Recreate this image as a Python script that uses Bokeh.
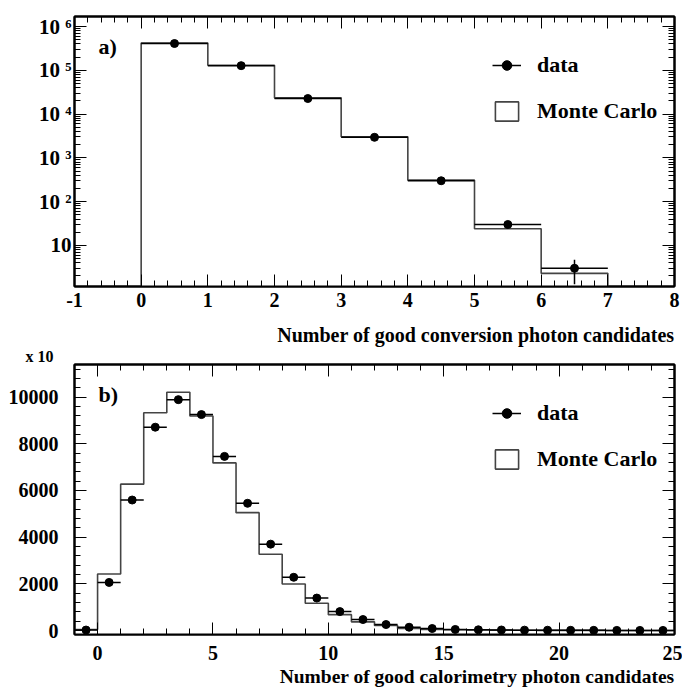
import numpy as np
from bokeh.plotting import figure
from bokeh.models import (Label, Legend, LegendItem, LinearAxis, LogAxis, FixedTicker,
                          SingleIntervalTicker, CustomJSTickFormatter, Range1d, Title)
from bokeh.layouts import column
from bokeh.embed import file_html
from bokeh.resources import INLINE

# ---------------- data: panel a) good conversion photon candidates ----------------
conv_edges = [0, 1, 2, 3, 4, 5, 6, 7]
conv_data = [4.1e5, 1.28e5, 2.27e4, 2.95e3, 300, 30, 3]
conv_data_err = [640, 360, 150, 54, 17, 5.5, 1.7]
conv_mc = [4.2e5, 1.31e5, 2.35e4, 3.05e3, 310, 24, 2.3]
conv_yticks = [10, 100, 1000, 10000, 100000, 1000000]
conv_ytick_labels = ["10", "10 ²", "10 ³", "10 ⁴", "10 ⁵", "10 ⁶"]

# ---------------- data: panel b) good calorimetry photon candidates (x 10) ----------
cal_edges = list(range(-1, 26))
cal_data = [20, 2060, 5590, 8710, 9890, 9250, 7460, 5450, 3700, 2280, 1390, 810, 470,
            256, 140, 85, 45, 30, 22, 16, 12, 9, 7, 5, 4, 3]
cal_mc = [40, 2420, 6270, 9330, 10210, 9190, 7180, 5050, 3270, 1990, 1170, 680, 370,
          213, 90, 50, 35, 22, 15, 10, 7, 5, 4, 3, 2, 2]

FONT = "Liberation Serif"
MC_COLOR = "#444444"

INT_FMT = CustomJSTickFormatter(code="""
const v = Math.round(tick);
return (v < 0 ? "-" : "") + Math.abs(v).toString();
""")


def style_axis(ax, show_labels=True, standoff=8, size="20px"):
    ax.axis_line_color = "black"
    ax.axis_line_width = 2
    ax.major_tick_in = 12
    ax.major_tick_out = 0
    ax.minor_tick_in = 6
    ax.minor_tick_out = 0
    ax.major_tick_line_color = "black"
    ax.minor_tick_line_color = "black"
    ax.major_tick_line_width = 1
    ax.minor_tick_line_width = 1
    if show_labels:
        ax.major_label_text_font = FONT
        ax.major_label_text_font_style = "bold"
        ax.major_label_text_font_size = size
        ax.major_label_text_color = "black"
        ax.major_label_standoff = standoff
    else:
        ax.formatter = CustomJSTickFormatter(code="return '';")
        ax.major_label_text_font_size = "0px"
        ax.major_label_standoff = 0


def side_title(p, txt, place, align, size, standoff, offset=0):
    p.add_layout(Title(text=txt, align=align, text_font=FONT, text_font_style="bold",
                       text_font_size=size, text_color="black", standoff=standoff,
                       offset=offset), place)


def base_fig(height, x_range, y_range, y_type, top, bottom):
    p = figure(width=682, height=height, x_range=x_range, y_range=y_range,
               y_axis_type=y_type, output_backend="svg", toolbar_location=None,
               min_border_left=74, min_border_right=8, min_border_top=top,
               min_border_bottom=bottom)
    p.xgrid.visible = False
    p.ygrid.visible = False
    p.outline_line_color = "black"
    p.outline_line_width = 2
    p.background_fill_color = "white"
    p.border_fill_color = "white"
    return p


def step_outline(edges, vals, base):
    xs = np.repeat(np.asarray(edges, dtype=float), 2)
    ys = np.concatenate([[base], np.repeat(np.asarray(vals, dtype=float), 2), [base]])
    return xs, ys


def make_legend(p, data_rs, mc_r):
    leg = Legend(items=[LegendItem(label="data", renderers=data_rs),
                        LegendItem(label="Monte Carlo", renderers=[mc_r])],
                 location=(418, 162), orientation="vertical",
                 glyph_width=29, glyph_height=24, label_height=24, label_standoff=16,
                 spacing=20, padding=0, margin=0, border_line_color=None,
                 background_fill_alpha=0, label_text_font=FONT,
                 label_text_font_style="bold", label_text_font_size="22px",
                 label_text_color="black", label_text_baseline="middle")
    p.add_layout(leg)


def panel_label(p, txt, x, y):
    p.add_layout(Label(x=x, y=y, x_units="screen", y_units="screen", text=txt,
                       text_font=FONT, text_font_style="bold", text_font_size="22px",
                       text_align="left", text_baseline="middle", text_color="black"))


# ---------------- panel a ----------------
p1 = base_fig(316, Range1d(-1, 8), Range1d(1.15, 1.7e6), "log", 16, 30)
xax1 = p1.below[0]
yax1 = p1.left[0]
minor_log = [m * 10.0 ** d for d in range(0, 7) for m in range(2, 10)]
ytick_a = FixedTicker(ticks=conv_yticks, minor_ticks=minor_log)
xtick_a = SingleIntervalTicker(interval=1, num_minor_ticks=5)
yfmt_a = CustomJSTickFormatter(args=dict(tvals=conv_yticks, tlabels=conv_ytick_labels), code="""
for (let i = 0; i < tvals.length; i++) {
  if (Math.abs(Math.log10(tick) - Math.log10(tvals[i])) < 1e-6) return tlabels[i];
}
return "";
""")
xax1.ticker = xtick_a
xax1.formatter = INT_FMT
yax1.ticker = ytick_a
yax1.formatter = yfmt_a
style_axis(xax1, True, 6)
style_axis(yax1, True, 3, "21px")
ax_top = LinearAxis(ticker=xtick_a)
style_axis(ax_top, False)
p1.add_layout(ax_top, "above")
ax_right = LogAxis(ticker=ytick_a)
style_axis(ax_right, False)
p1.add_layout(ax_right, "right")

xs, ys = step_outline(conv_edges, conv_mc, 0.5)
mc1 = p1.patch(xs, ys, fill_color="white", line_color=MC_COLOR, line_width=1.6)
cen_a = [(conv_edges[i] + conv_edges[i + 1]) / 2 for i in range(len(conv_data))]
lo_a = [conv_edges[i] for i in range(len(conv_data))]
hi_a = [conv_edges[i + 1] for i in range(len(conv_data))]
h1 = p1.segment(x0=lo_a, y0=conv_data, x1=hi_a, y1=conv_data, line_color="black", line_width=1.5)
p1.segment(x0=cen_a, y0=[v - e for v, e in zip(conv_data, conv_data_err)], x1=cen_a,
           y1=[v + e for v, e in zip(conv_data, conv_data_err)], line_color="black", line_width=1.5)
d1 = p1.scatter(cen_a, conv_data, size=8, marker="circle", color="black")
make_legend(p1, [h1, d1], mc1)
panel_label(p1, "a)", 24, 240)

# ---------------- panel b ----------------
p2 = base_fig(372, Range1d(-1, 25), Range1d(-171, 11396), "linear", 48, 54)
xax2 = p2.below[0]
yax2 = p2.left[0]
xtick_b = SingleIntervalTicker(interval=5, num_minor_ticks=5)
ytick_b = SingleIntervalTicker(interval=2000, num_minor_ticks=5)
xax2.ticker = xtick_b
xax2.formatter = INT_FMT
yax2.ticker = ytick_b
yax2.formatter = INT_FMT
style_axis(xax2, True, 11)
style_axis(yax2, True, 16)
ax_top2 = LinearAxis(ticker=xtick_b)
style_axis(ax_top2, False)
p2.add_layout(ax_top2, "above")
ax_right2 = LinearAxis(ticker=ytick_b)
style_axis(ax_right2, False)
p2.add_layout(ax_right2, "right")

xs2, ys2 = step_outline(cal_edges, cal_mc, -1000)
mc2 = p2.patch(xs2, ys2, fill_color="white", line_color=MC_COLOR, line_width=1.6)
cen_b = [(cal_edges[i] + cal_edges[i + 1]) / 2 for i in range(len(cal_data))]
lo_b = [cal_edges[i] for i in range(len(cal_data))]
hi_b = [cal_edges[i + 1] for i in range(len(cal_data))]
h2 = p2.segment(x0=lo_b, y0=cal_data, x1=hi_b, y1=cal_data, line_color="black", line_width=1.5)
d2 = p2.scatter(cen_b, cal_data, size=8, marker="circle", color="black")
make_legend(p2, [h2, d2], mc2)
panel_label(p2, "b)", 24, 240)

# texts between the two frames (stacked outward from panel b's frame)
side_title(p2, "x 10", "above", "left", "16px", 0, -49)
side_title(p2, "Number of good conversion photon candidates", "above", "right", "20px", 0)
side_title(p2, "Number of good calorimetry photon candidates", "below", "right", "19.5px", 2)

layout = column(p1, p2, spacing=0)
open("out.html", "w").write(file_html(layout, INLINE))
